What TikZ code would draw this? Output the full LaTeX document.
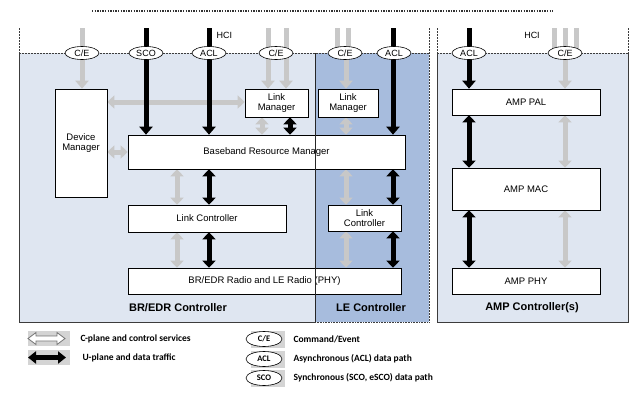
\documentclass[tikz,border=0pt]{standalone}
\usepackage{fontspec}
\setmainfont{Liberation Sans}
\newfontfamily\legfont{Carlito}
\usetikzlibrary{arrows.meta,shapes.geometric}
\definecolor{bgL}{RGB}{223,230,241}
\definecolor{bgLE}{RGB}{167,188,221}
\definecolor{arrG}{RGB}{200,200,200}
\definecolor{shadowG}{RGB}{212,212,212}
\definecolor{edge}{RGB}{60,60,60}
\pgfdeclarelayer{bg}
\pgfdeclarelayer{arr}
\pgfsetlayers{bg,arr,main}
\begin{document}
\begin{tikzpicture}[x=1pt,y=-1pt,
 box/.style={draw=black,line width=0.6pt,fill=white,inner sep=1pt,font=\fontsize{9.5}{10.5}\selectfont,align=center},
 oval/.style={ellipse,draw=black,line width=0.6pt,fill=white,minimum width=34pt,minimum height=13pt,inner sep=0pt,font=\fontsize{9}{10}\selectfont},
 loval/.style={ellipse,draw=black,line width=0.6pt,fill=white,minimum width=36pt,minimum height=15pt,inner sep=0pt,font=\legfont\fontsize{8.5}{10}\selectfont\bfseries},
 garr/.style={draw=arrG,line width=5pt,-{Triangle[width=13pt,length=8pt]}},
 barr/.style={draw=black,line width=5pt,-{Triangle[width=13pt,length=8pt]}},
 gdbl/.style={draw=arrG,line width=5pt,{Triangle[width=13pt,length=7pt]}-{Triangle[width=13pt,length=7pt]}},
 bdbl/.style={draw=black,line width=5pt,{Triangle[width=13pt,length=7pt]}-{Triangle[width=13pt,length=7pt]}},
 stubg/.style={draw=arrG,line width=5pt},
 stubb/.style={draw=black,line width=5pt},
 dsh/.style={draw=edge,line width=0.7pt,dash pattern=on 2pt off 1pt},
 sol/.style={draw=edge,line width=0.8pt},
 ctl/.style={font=\fontsize{11}{12}\selectfont\bfseries},
 lbl/.style={font=\fontsize{9}{10}\selectfont},
 leg/.style={font=\legfont\fontsize{9.5}{11}\selectfont\bfseries,anchor=west},
]
\useasboundingbox (0,0) rectangle (638,394);

% columns and rows
\coordinate (top) at (0,28);
\foreach \c in {82,146,177,209,262,268,286,290,337,346,348,393,469,554,565,576}{\coordinate (k\c) at (\c,0);}
\coordinate (r102) at (0,102);

% nodes
\node[box,minimum width=52pt,minimum height=108pt] (DM) at (81,143) {Device\\Manager};
\node[box,minimum width=63pt,minimum height=28pt] (LM) at (276.5,103) {Link\\Manager};
\node[box,minimum width=60pt,minimum height=28pt] (LELM) at (348,103) {Link\\Manager};
\node[box,minimum width=277pt,minimum height=34pt] (BRM) at (266.5,152) {Baseband Resource Manager};
\node[box,minimum width=158pt,minimum height=27pt] (LC) at (207,218.5) {Link Controller};
\node[box,minimum width=73pt,minimum height=26pt] (LELC) at (364.5,218) {Link\\Controller};
\node[box,minimum width=273pt,minimum height=26pt] (PHY) at (264.5,281) {BR/EDR Radio and LE Radio (PHY)};
\node[box,minimum width=148pt,minimum height=26pt] (PAL) at (526,102) {AMP PAL};
\node[box,minimum width=148pt,minimum height=42pt] (MAC) at (526,189) {AMP MAC};
\node[box,minimum width=148pt,minimum height=26pt] (APHY) at (526,281) {AMP PHY};

\node[oval] (ce1) at (82,53) {C/E};
\node[oval] (sco) at (146,53) {SCO};
\node[oval] (acl1) at (209,53) {ACL};
\node[oval] (ce2) at (276,53) {C/E};
\node[oval] (ce3) at (345,53) {C/E};
\node[oval] (acl2) at (394,53) {ACL};
\node[oval] (acl3) at (469,53) {ACL};
\node[oval] (ce4) at (565,53) {C/E};

\node[lbl,anchor=west] (hci1) at (213,35) {HCI};
\node[lbl] (hci2) at (532,35) {HCI};

\node[ctl] (lbr) at (178,308) {BR/EDR Controller};
\node[ctl] (lle) at (371,308) {LE Controller};
\node[ctl] (lamp) at (532,308) {AMP Controller(s)};

% LE left border over boxes
\draw[draw=black!85,line width=0.7pt] (315,53) -- (315,322);

% backgrounds and frames
\begin{pgfonlayer}{bg}
\fill[white] (0,0) rectangle (638,394);
\fill[bgL] (19,53) rectangle (315,322);
\fill[bgLE] (315,53) rectangle (429,322);
\fill[bgL] (437,53) rectangle (628,322);
\draw[dsh] (19,53) -- (429,53);
\draw[dsh] (437,53) -- (628,53);
\draw[dsh] (19,28) -- (19,53);
\draw[dsh] (429,28) -- (429,322);
\draw[dsh] (437,28) -- (437,53);
\draw[dsh] (628,28) -- (628,53);
\draw[sol] (19,53) -- (19,322) -- (315,322);
\draw[draw=edge,line width=0.8pt,dash pattern=on 1pt off 0.6pt] (315,322) -- (429,322);
\draw[sol] (437,53) -- (437,322) -- (628,322) -- (628,53);
\draw[draw=black!80,line width=1.3pt,dash pattern=on 1.3pt off 1.3pt] (92,11) -- (553,11);
\end{pgfonlayer}

% connectors
\begin{pgfonlayer}{arr}
\draw[gdbl] (DM.east |- r102) -- (LM.west |- r102);
\draw[gdbl] (DM.east |- BRM.west) -- (BRM.west);
\draw[stubg] (k82 |- top) -- (ce1.center);
\draw[garr] (ce1.center) -- (ce1.center |- DM.north);
\draw[barr] (k146 |- top) -- (k146 |- BRM.north);
\draw[barr] (k209 |- top) -- (k209 |- BRM.north);
\draw[stubg] (k268 |- top) -- (k268 |- ce2.center);
\draw[stubg] (k286 |- top) -- (k286 |- ce2.center);
\draw[garr] (k268 |- ce2.center) -- (k268 |- LM.north);
\draw[garr] (k286 |- ce2.center) -- (k286 |- LM.north);
\draw[stubg] (k337 |- top) -- (k337 |- ce3.center);
\draw[stubg] (k348 |- top) -- (k348 |- ce3.center);
\draw[garr] (k346 |- ce3.center) -- (k346 |- LELM.north);
\draw[barr] (k393 |- top) -- (k393 |- BRM.north);
\draw[stubb] (k469 |- top) -- (acl3.center);
\draw[barr] (acl3.center) -- (k469 |- PAL.north);
\draw[stubg] (k554 |- top) -- (k554 |- ce4.center);
\draw[stubg] (k565 |- top) -- (k565 |- ce4.center);
\draw[stubg] (k576 |- top) -- (k576 |- ce4.center);
\draw[garr] (k565 |- ce4.center) -- (k565 |- PAL.north);
% LM - BRM
\draw[gdbl] (k262 |- LM.south) -- (k262 |- BRM.north);
\draw[bdbl] (k290 |- LM.south) -- (k290 |- BRM.north);
\draw[gdbl] (k346 |- LELM.south) -- (k346 |- BRM.north);
% BRM - LC - PHY
\draw[gdbl] (k177 |- BRM.south) -- (k177 |- LC.north);
\draw[bdbl] (k209 |- BRM.south) -- (k209 |- LC.north);
\draw[gdbl] (k177 |- LC.south) -- (k177 |- PHY.north);
\draw[bdbl] (k209 |- LC.south) -- (k209 |- PHY.north);
\draw[gdbl] (k346 |- BRM.south) -- (k346 |- LELC.north);
\draw[bdbl] (k393 |- BRM.south) -- (k393 |- LELC.north);
\draw[gdbl] (k346 |- LELC.south) -- (k346 |- PHY.north);
\draw[bdbl] (k393 |- LELC.south) -- (k393 |- PHY.north);
% AMP
\draw[bdbl] (k469 |- PAL.south) -- (k469 |- MAC.north);
\draw[gdbl] (k565 |- PAL.south) -- (k565 |- MAC.north);
\draw[bdbl] (k469 |- MAC.south) -- (k469 |- APHY.north);
\draw[gdbl] (k565 |- MAC.south) -- (k565 |- APHY.north);
\end{pgfonlayer}

% legend
\fill[shadowG] (28,331) rectangle (70,346);
\fill[shadowG] (28,350) rectangle (70,365);
\draw[fill=white,draw=black!55,line width=0.8pt] (28,338.5) -- (36,332.5) -- (36,336) -- (57,336) -- (57,332.5) -- (65,338.5) -- (57,344.5) -- (57,341) -- (36,341) -- (36,344.5) -- cycle;
\coordinate (la) at (28,357.5);
\coordinate (lb) at (66,357.5);
\draw[draw=black,line width=4.5pt,{Triangle[width=12pt,length=8pt]}-{Triangle[width=12pt,length=8pt]}] (la) -- (lb);
\node[leg] (t1) at (77,339) {C-plane and control services};
\node[leg] (t2) at (79,358) {U-plane and data traffic};

\fill[shadowG] (251,331) rectangle (285,348);
\fill[shadowG] (251,351) rectangle (285,368);
\fill[shadowG] (251,370) rectangle (285,387);
\node[loval] (lce) at (264,339) {C/E};
\node[loval] (lacl) at (264,359) {ACL};
\node[loval] (lsco) at (264,378) {SCO};
\node[leg] (t3) at (290,339) {Command/Event};
\node[leg] (t4) at (290,359) {Asynchronous (ACL) data path};
\node[leg] (t5) at (290,378) {Synchronous (SCO, eSCO) data path};
\end{tikzpicture}
\end{document}
